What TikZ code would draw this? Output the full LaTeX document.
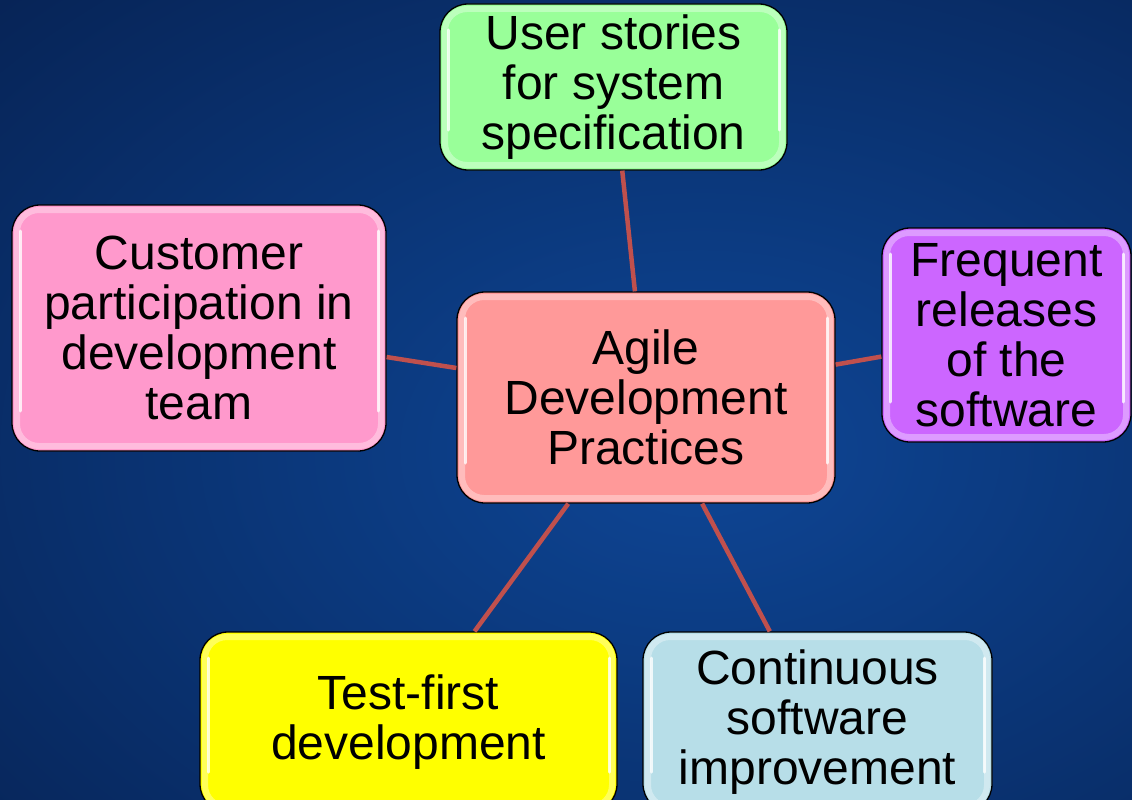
\documentclass[tikz,border=0pt]{standalone}
\usepackage{fontspec}
\setmainfont{Liberation Sans}
\usetikzlibrary{shadings}
\definecolor{bgdark}{HTML}{051C48}
\definecolor{bgmid}{HTML}{0A3475}
\definecolor{bglight}{HTML}{0E4696}
\definecolor{linkred}{HTML}{C0504D}
\definecolor{cgreen}{HTML}{99FF99}
\definecolor{cpink}{HTML}{FF99CC}
\definecolor{csalmon}{HTML}{FF9999}
\definecolor{cpurple}{HTML}{CC66FF}
\definecolor{cyellow}{HTML}{FFFF00}
\definecolor{cblue}{HTML}{B7DEE8}
\newcommand{\boxfont}{\fontsize{48}{50}\selectfont}
\tikzset{
  box/.style={draw=black, line width=1.3pt, rounded corners=28pt, align=center,
    font=\boxfont, inner sep=0pt, text=black,
    path picture={
      \draw[white, opacity=0.8, line width=3pt, line cap=round]
        ([xshift=8pt,yshift=-26pt]path picture bounding box.north west) --
        ([xshift=8pt,yshift=40pt]path picture bounding box.south west);
      \draw[white, opacity=0.8, line width=3pt, line cap=round]
        ([xshift=-8pt,yshift=-26pt]path picture bounding box.north east) --
        ([xshift=-8pt,yshift=40pt]path picture bounding box.south east);
      \draw[white, opacity=0.35, line width=6pt, rounded corners=22pt]
        ([xshift=5pt,yshift=-5pt]path picture bounding box.north west) rectangle
        ([xshift=-5pt,yshift=5pt]path picture bounding box.south east);
    }},
  link/.style={draw=linkred, line width=4.5pt}
}
\begin{document}
\begin{tikzpicture}[x=1pt,y=-1pt]
\useasboundingbox (0,0) rectangle (1132,800);
\clip (0,0) rectangle (1132,800);
\shade[inner color=bglight, outer color=bgdark] (-500,-350) rectangle (1900,1250);

\node[box, fill=cgreen, minimum width=347pt, minimum height=166pt] (us) at (613.5,87) {User stories\\for system\\specification};
\node[box, fill=cpink, minimum width=374pt, minimum height=246pt] (cp) at (199,328) {Customer\\participation in\\development\\team};
\node[box, fill=csalmon, minimum width=378pt, minimum height=211pt] (ad) at (646,397.5) {Agile\\Development\\Practices};
\node[box, fill=cpurple, minimum width=249pt, minimum height=214pt] (fr) at (1006.5,335) {Frequent\\releases\\of the\\software};
\node[box, fill=cyellow, minimum width=417pt, minimum height=180pt] (tf) at (408.5,722) {Test-first\\development};
\node[box, fill=cblue, minimum width=349pt, minimum height=180pt] (cs) at (817.5,722) {Continuous\\software\\improvement};

\draw[link] (ad) -- (us);
\draw[link] (ad) -- (cp);
\draw[link] (ad) -- (fr);
\draw[link] (ad) -- (tf);
\draw[link] (ad) -- (cs);
\end{tikzpicture}
\end{document}
